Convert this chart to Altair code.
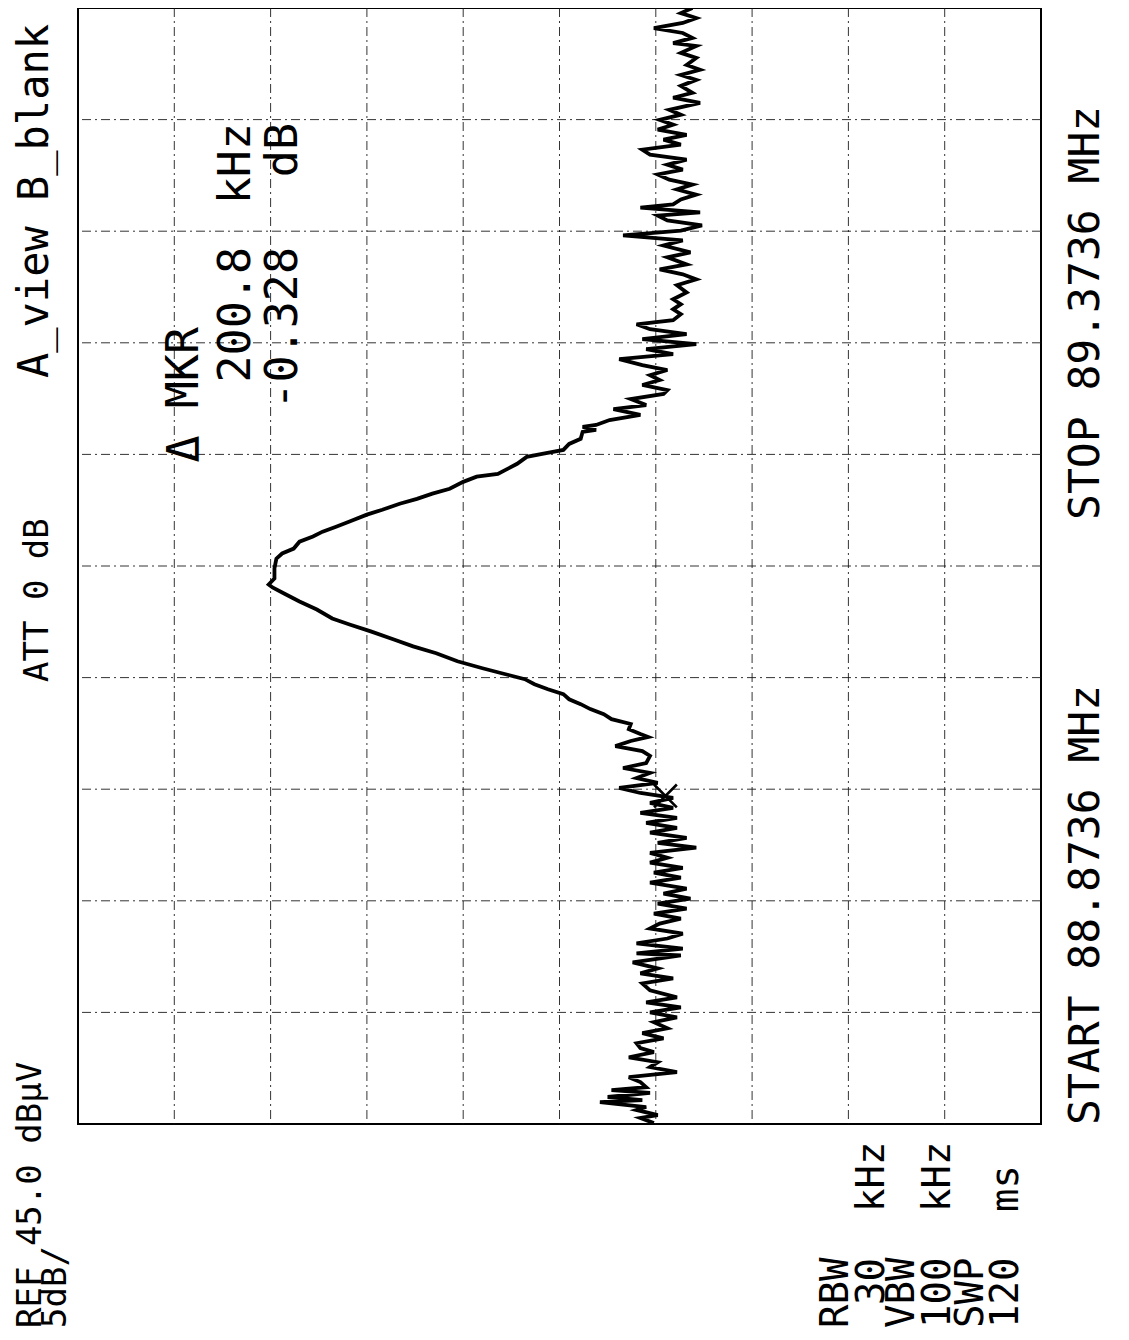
import altair as alt
import pandas as pd

# ---- instrument settings (from the annotations) ----
START_MHZ = 88.8736
STOP_MHZ = 89.3736
REF_DBUV = 45.0
DB_PER_DIV = 5.0
N_DIV = 10

# ---- trace: frequency offset from START (kHz) and level (dBuV) ----
freq_khz = [
    0.4, 2.7, 4.0, 6.3, 7.6, 9.8, 10.7, 12.1, 13.9, 15.2, 16.5, 18.8, 21.0, 23.2, 25.5, 27.7,
    29.9, 32.2, 34.0, 36.2, 38.4, 40.7, 42.9, 45.6, 47.8, 50.0, 52.3, 54.5, 56.7, 59.9, 63.0,
    65.2, 67.5, 69.7, 72.4, 75.5,
    76.4, 78.6, 80.9, 83.1, 85.3, 87.6, 89.8, 92.0, 94.3, 96.5, 98.7, 101.0, 103.2, 105.4,
    108.1, 110.4, 112.6, 114.8, 117.1, 119.3, 121.5, 123.8, 126.0, 128.2, 130.5, 132.7, 134.9,
    137.2, 139.4, 141.6, 143.9, 146.1, 148.3, 150.6, 152.8, 155.0, 157.3, 159.5, 161.7,
    164.9, 167.1, 169.3, 171.6, 173.4, 174.7, 176.9, 179.2, 181.4, 183.6, 185.9, 188.1, 190.3,
    192.6, 194.8, 197.0, 199.3, 201.5, 204.2, 207.3, 210.9, 214.0, 217.1, 220.7, 223.8, 226.5,
    230.5, 234.1, 237.7, 240.4, 241.7,
    244.4, 248.9, 253.3, 255.6, 257.8, 260.9, 263.2, 265.4, 267.6, 269.9, 273.0, 275.2, 277.9,
    280.1, 282.4, 284.6, 287.7, 290.0, 291.3, 293.5, 295.8, 298.9, 300.2, 302.0, 304.7, 307.0,
    310.1, 311.0, 312.3, 313.2, 315.4, 317.7, 320.3, 322.1, 324.8, 327.1,
    328.8, 331.1, 333.3, 335.5, 337.8, 340.0, 342.7, 344.9, 347.2, 349.4, 351.6, 353.9, 356.1,
    358.3, 360.1, 362.8, 365.0, 367.3, 369.5, 372.6, 375.8, 378.4, 380.7, 382.9, 385.1, 388.3,
    390.5, 393.6, 395.9, 398.1, 400.3, 402.6, 404.8, 407.0, 408.4, 410.6, 412.0,
    414.2, 416.4, 418.7, 420.9, 423.1, 425.4, 427.6, 429.8, 432.1, 434.3, 436.5, 438.8, 441.0,
    443.2, 445.5, 447.7, 449.9, 452.2, 454.4, 457.5, 459.8, 462.0, 465.1, 467.8, 470.0, 472.3,
    474.5, 477.6, 479.9, 483.0, 484.3, 486.6, 488.8, 491.0, 493.3, 495.5, 497.7, 500.0,
]
level_dbuv = [
    15.1, 15.8, 14.9, 16.0, 15.5, 17.9, 15.7, 17.5, 15.3, 17.3, 15.5, 15.8, 16.4, 13.9, 15.3, 14.9,
    16.4, 15.1, 15.8, 16.0, 14.6, 15.7, 14.4, 15.1, 13.9, 15.3, 13.7, 15.5, 13.9, 15.3, 15.7,
    14.1, 15.8, 14.9, 16.2, 13.7,
    16.0, 13.6, 16.0, 14.4, 13.6, 15.3, 14.8, 13.7, 15.1, 13.4, 14.9, 13.2, 14.6, 13.4,
    15.3, 13.7, 15.1, 13.6, 15.3, 14.4, 15.3, 12.9, 14.9, 13.4, 15.3, 13.9, 15.5,
    13.9, 15.8, 14.1, 15.3, 14.1, 15.8, 16.9, 14.9, 16.0, 15.3, 16.7, 15.5,
    15.3, 15.7, 17.1, 16.3, 15.4, 15.8, 16.4, 16.3, 17.3, 17.7, 18.4, 18.9, 19.5,
    19.8, 20.6, 21.3, 21.8, 22.8, 24.0, 25.3, 26.4, 27.6, 28.6, 29.8, 30.9, 31.8,
    32.6, 33.5, 34.3, 34.9, 35.1,
    34.8, 34.8, 34.7, 34.4, 33.8, 33.5, 32.8, 32.3, 31.6, 30.9, 30.0, 29.2, 28.3,
    27.4, 26.6, 25.7, 25.0, 24.3, 23.2, 22.7, 22.2, 21.7, 20.9, 19.8, 19.5, 18.9,
    18.8, 18.1, 18.8, 18.1, 17.4, 15.8, 17.2, 15.5, 16.3, 14.6,
    14.4, 15.7, 14.8, 15.3, 14.4, 15.7, 16.9, 14.1, 15.5, 12.9, 15.7, 13.4, 15.3,
    16.0, 14.1, 13.7, 14.1, 13.7, 14.1, 13.4, 13.9, 12.9, 13.6, 14.8, 13.4, 14.4,
    13.2, 14.6, 13.6, 16.7, 13.7, 12.6, 14.4, 14.9, 12.7, 15.8, 14.1,
    13.7, 12.9, 13.9, 13.1, 14.3, 14.9, 13.6, 14.4, 13.4, 15.3, 15.7, 13.7, 14.6,
    13.4, 14.9, 14.1, 14.8, 13.7, 14.3, 12.7, 14.1, 13.1, 13.7, 12.9, 13.7, 12.7,
    13.4, 12.9, 13.7, 12.9, 14.1, 13.1, 13.6, 15.1, 13.6, 12.9, 13.7, 13.1,
]

# delta marker position (kHz offset from START, dBuV)
marker_khz = [147.0]
marker_dbuv = [14.5]

# ---- layout (page pixels) ----
X0, Y0 = 78, 8          # top-left of the graticule on the page
W, H = 963, 1116        # graticule size
FONT = "DejaVu Sans Mono"

low_db = REF_DBUV - DB_PER_DIV * N_DIV
span_mhz = STOP_MHZ - START_MHZ

trace = pd.DataFrame({
    "freq": [START_MHZ + k / 1000.0 for k in freq_khz],
    "level": level_dbuv,
})
marker = pd.DataFrame({
    "freq": [START_MHZ + k / 1000.0 for k in marker_khz],
    "level": marker_dbuv,
})
vgrid = pd.DataFrame({"level": [REF_DBUV - DB_PER_DIV * i for i in range(1, N_DIV)]})
hgrid = pd.DataFrame({"freq": [START_MHZ + span_mhz * i / N_DIV for i in range(1, N_DIV)]})

xscale = alt.Scale(domain=[low_db, REF_DBUV], reverse=True, nice=False, zero=False)
yscale = alt.Scale(domain=[START_MHZ, STOP_MHZ], nice=False, zero=False)

grid_style = dict(color="#111111", strokeWidth=1, strokeDash=[9, 4, 2, 4], opacity=0.85)

vlines = alt.Chart(vgrid).mark_rule(**grid_style).encode(
    x=alt.X("level:Q", scale=xscale, axis=None)
)
hlines = alt.Chart(hgrid).mark_rule(**grid_style).encode(
    y=alt.Y("freq:Q", scale=yscale, axis=None)
)

line = alt.Chart(trace).mark_line(
    color="black", strokeWidth=3.8, clip=True, strokeJoin="miter"
).encode(
    x=alt.X("level:Q", scale=xscale, axis=None),
    y=alt.Y("freq:Q", scale=yscale, axis=None),
    order=alt.Order("freq:Q"),
)

mark = alt.Chart(marker).mark_point(
    shape="M-1,-1L1,1M-1,1L1,-1", size=520, strokeWidth=2.6, color="black",
    filled=False, opacity=1,
).encode(
    x=alt.X("level:Q", scale=xscale, axis=None),
    y=alt.Y("freq:Q", scale=yscale, axis=None),
)


def label(txt, px, py, size, align="left"):
    """Rotated annotation; px = page x of the glyph baseline (right side), py = page y."""
    return alt.Chart(pd.DataFrame({"t": [txt]})).mark_text(
        angle=270, align=align, baseline="alphabetic", font=FONT,
        fontSize=size, color="black",
    ).encode(text="t:N", x=alt.value(px - X0), y=alt.value(py - Y0))


labels = [
    label("REF 45.0 dBμV", 41, 1328, 34),
    label("5dB/", 66, 1328, 34),
    label("ATT 0 dB", 48, 682, 34),
    label("A_view B_blank", 48, 378, 42),
    label("Δ MKR", 198, 327, 45, "right"),
    label("200.8", 250, 247, 45, "right"),
    label("kHz", 250, 123, 45, "right"),
    label("-0.328", 297, 247, 45, "right"),
    label("dB", 297, 123, 45, "right"),
    label("START 88.8736 MHz", 1099, 1125, 43),
    label("STOP 89.3736 MHz", 1099, 520, 43),
    label("RBW", 848, 1328, 39),
    label("30", 884, 1305, 39),
    label("kHz", 884, 1212, 39),
    label("VBW", 914, 1328, 39),
    label("100", 950, 1328, 39),
    label("kHz", 950, 1212, 39),
    label("SWP", 983, 1328, 39),
    label("120", 1018, 1328, 39),
    label("ms", 1018, 1212, 39),
]

chart = alt.layer(vlines, hlines, line, mark, *labels).properties(
    width=W,
    height=H,
    autosize=alt.AutoSizeParams(type="none"),
    padding={"left": X0 - 8, "top": 0, "right": 76, "bottom": 206},
    background="white",
).configure_view(stroke="black", strokeWidth=2)

chart.save("out.html", embed_options={"renderer": "svg", "actions": False})
